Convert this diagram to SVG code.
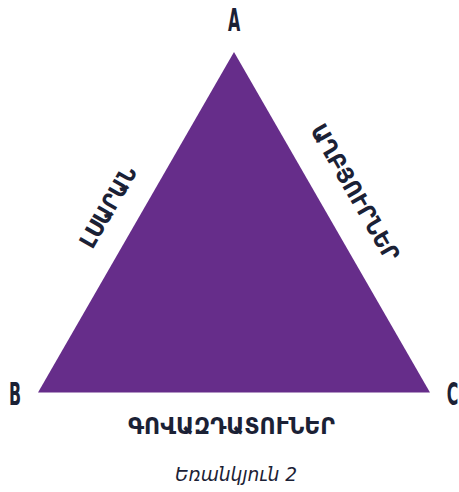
<svg xmlns="http://www.w3.org/2000/svg" width="459" height="492" viewBox="0 0 459 492">
<style>
.v{font-family:"DejaVu Sans Condensed","DejaVu Sans",sans-serif;font-weight:bold;fill:#1b2135;text-anchor:middle}
.lbl{font-size:23px}
.pt{font-size:32px}
.cap{font-family:"DejaVu Sans","Noto Sans",sans-serif;font-style:italic;font-size:20px;fill:#1b2135;text-anchor:middle}
</style>
<rect width="459" height="492" fill="#ffffff"/>
<g id="triangle">
<polygon points="234,52 38,392.6 430,392.6" fill="#662d8a"/>
</g>
<g id="vertex-A"><text class="v pt" transform="translate(234,31) scale(0.55,1)">A</text></g>
<g id="vertex-B"><text class="v pt" transform="translate(15,405) scale(0.55,1)">B</text></g>
<g id="vertex-C"><text class="v pt" transform="translate(452.5,405) scale(0.55,1)">C</text></g>
<g id="side-left" transform="translate(108,207) rotate(-60.1)">
<text class="v lbl" x="0" y="8" textLength="90" lengthAdjust="spacingAndGlyphs">ԼՍԱՐԱՆ</text>
</g>
<g id="side-right" transform="translate(355,192.5) rotate(60.1)">
<text class="v lbl" x="0" y="8" textLength="154" lengthAdjust="spacingAndGlyphs">ԱՂԲՅՈՒՐՆԵՐ</text>
</g>
<g id="side-bottom">
<text class="v lbl" x="231.5" y="434" textLength="207" lengthAdjust="spacingAndGlyphs">ԳՈՎԱԶԴԱՏՈՒՆԵՐ</text>
</g>
<g id="caption">
<text class="cap" x="236" y="481" textLength="122" lengthAdjust="spacingAndGlyphs">Եռանկյուն 2</text>
</g>
</svg>
